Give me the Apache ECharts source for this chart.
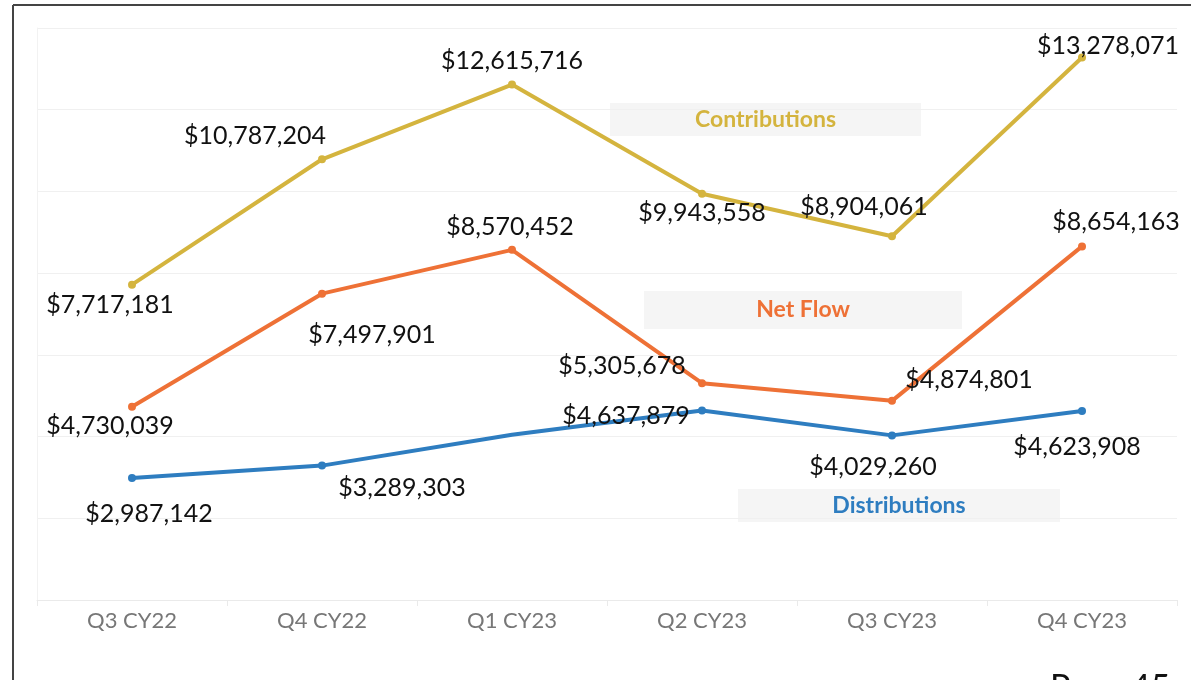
<!DOCTYPE html>
<html>
<head>
<meta charset="utf-8">
<script src="https://cdn.jsdelivr.net/npm/echarts@6/dist/echarts.min.js"></script>
<style>
html,body{margin:0;padding:0;background:#fff;}
#chart{width:1191px;height:680px;}
</style>
</head>
<body>
<div id="chart"></div>
<script>
var categories = ['Q3 CY22','Q4 CY22','Q1 CY23','Q2 CY23','Q3 CY23','Q4 CY23'];
var contributions = [7717181, 10787204, 12615716, 9943558, 8904061, 13278071];
var netFlow = [4730039, 7497901, 8570452, 5305678, 4874801, 8654163];
var distributions = [2987142, 3289303, 4045264, 4637879, 4029260, 4623908];
var distributionsShown = [true, true, false, true, true, true];

var contribOffsets = [[-22,20],[-67,-23],[0,-24],[0,19],[-28,-29],[26,-12]];
var netOffsets = [[-22,19],[50,41],[-2,-23],[-80,-17],[77,-21],[34,-24]];
var distOffsets = [[17,36],[80,22],[0,0],[-76,5],[-19,32],[-5,36]];

var C_GOLD = '#D4B43E', C_ORANGE = '#EE7136', C_BLUE = '#2E7DC0';

function fmt(v){ return '$' + v.toLocaleString('en-US'); }

function build(values, offsets, shown){
  return values.map(function(v, i){
    var show = shown ? shown[i] : true;
    return {
      value: v,
      symbol: show ? 'circle' : 'none',
      label: {show: show, offset: offsets[i]}
    };
  });
}

var labelBase = {
  position: 'inside',
  align: 'center',
  verticalAlign: 'middle',
  color: '#111',
  fontSize: 25,
  fontFamily: 'Lato',
  formatter: function(p){ return fmt(p.value); }
};

function series(name, values, offsets, color, shown){
  return {
    name: name,
    type: 'line',
    data: build(values, offsets, shown),
    symbol: 'circle',
    symbolSize: 8,
    lineStyle: {width: 4, color: color},
    itemStyle: {color: color},
    label: labelBase,
    emphasis: {disabled: true},
    animation: false,
    z: 3
  };
}

function tag(text, color, left, top, w, h){
  return {
    type: 'group', left: left, top: top,
    children: [
      {type:'rect', shape:{x:0,y:0,width:w,height:h}, style:{fill:'#F5F5F5'}},
      {type:'text', x:w/2, y:h/2, style:{text:text, fill:color, font:'bold 23px Lato', textAlign:'center', textVerticalAlign:'middle'}}
    ]
  };
}

var chart = echarts.init(document.getElementById('chart'));
chart.setOption({
  backgroundColor: '#fff',
  animation: false,
  grid: {left: 37, right: 14, top: 28, bottom: 80, containLabel: false},
  xAxis: {
    type: 'category',
    data: categories,
    boundaryGap: true,
    axisLine: {show: true, lineStyle: {color: '#EAEAEA', width: 1}},
    axisTick: {show: true, length: 6, lineStyle: {color: '#EAEAEA'}},
    axisLabel: {color: '#777', fontSize: 22, fontFamily: 'Lato', margin: 10}
  },
  yAxis: {
    type: 'value',
    min: 0, max: 14000000, interval: 2000000,
    axisLabel: {show: false},
    axisLine: {show: true, lineStyle: {color: '#F2F2F2'}},
    axisTick: {show: false},
    splitLine: {lineStyle: {color: '#F0F0F0', width: 1}}
  },
  series: [
    series('Contributions', contributions, contribOffsets, C_GOLD),
    series('Net Flow', netFlow, netOffsets, C_ORANGE),
    series('Distributions', distributions, distOffsets, C_BLUE, distributionsShown)
  ],
  graphic: [
    {type:'line', shape:{x1:13,y1:5,x2:1191,y2:5}, style:{stroke:'#444', lineWidth:2}, z:10},
    {type:'line', shape:{x1:13,y1:5,x2:13,y2:680}, style:{stroke:'#444', lineWidth:2}, z:10},
    tag('Contributions', C_GOLD, 610, 103, 311, 33),
    tag('Net Flow', C_ORANGE, 644, 291, 318, 38),
    tag('Distributions', C_BLUE, 738, 489, 322, 33),
    {type:'text', left: 1050, top: 671, style:{text:'Page 45', fill:'#111', font:'34px Lato'}}
  ]
});
</script>
</body>
</html>
